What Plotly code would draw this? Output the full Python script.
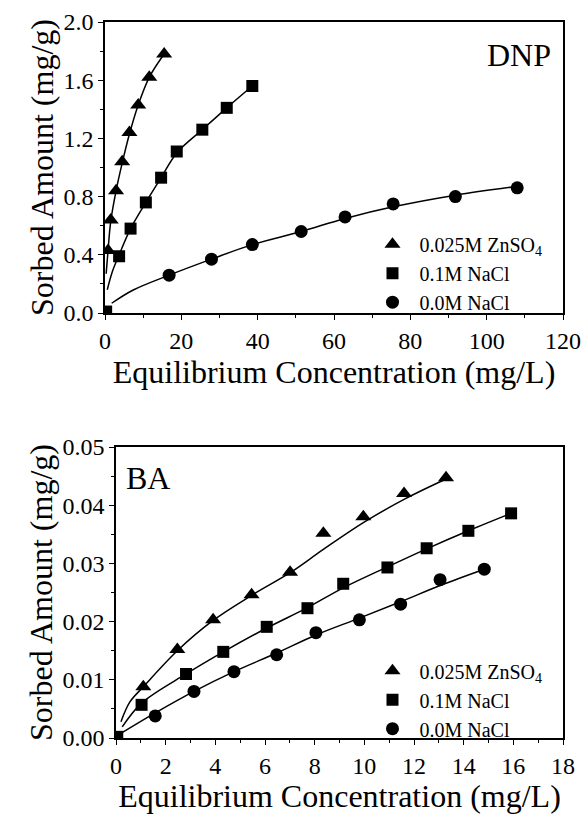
import plotly.graph_objects as go

# ---------------- DNP (top panel) ----------------
dnp_zn_x = [0.8, 1.5, 2.9, 4.5, 6.4, 8.7, 11.6, 15.5]
dnp_zn_y = [0.43, 0.64, 0.84, 1.04, 1.24, 1.43, 1.62, 1.78]
dnp_na1_x = [0.3, 3.7, 6.7, 10.7, 14.7, 18.8, 25.5, 31.9, 38.6]
dnp_na1_y = [0.01, 0.39, 0.58, 0.76, 0.93, 1.11, 1.26, 1.41, 1.56]
dnp_na0_x = [16.8, 27.9, 38.6, 51.4, 62.9, 75.5, 91.8, 108.0]
dnp_na0_y = [0.26, 0.37, 0.47, 0.56, 0.66, 0.75, 0.80, 0.86]

# fitted curves
dnp_zn_cx = [0.3, 0.8, 1.5, 2.9, 4.5, 6.4, 8.7, 11.6, 15.5]
dnp_zn_cy = [0.27, 0.43, 0.63, 0.84, 1.03, 1.23, 1.43, 1.62, 1.78]
dnp_na1_cx = [0.6, 2.0, 3.7, 6.7, 10.7, 14.7, 18.8, 25.5, 31.9, 38.6]
dnp_na1_cy = [0.16, 0.29, 0.40, 0.58, 0.76, 0.93, 1.10, 1.26, 1.41, 1.56]
dnp_na0_cx = [1.75, 7.4, 16.8, 27.9, 38.6, 51.4, 62.9, 75.5, 91.8, 108.0]
dnp_na0_cy = [0.067, 0.158, 0.26, 0.37, 0.47, 0.56, 0.65, 0.73, 0.81, 0.87]

# ---------------- BA (bottom panel) ----------------
ba_zn_x = [1.10, 2.47, 3.91, 5.46, 7.01, 8.35, 9.96, 11.6, 13.29]
ba_zn_y = [0.0088, 0.0152, 0.0203, 0.0246, 0.0285, 0.0352, 0.0380, 0.0420, 0.0447]
ba_na1_x = [0.05, 1.03, 2.82, 4.32, 6.07, 7.71, 9.15, 10.93, 12.51, 14.19, 15.91]
ba_na1_y = [0.0002, 0.0057, 0.0110, 0.0148, 0.0191, 0.0223, 0.0265, 0.0293, 0.0326, 0.0356, 0.0386]
ba_na0_x = [1.58, 3.14, 4.75, 6.47, 8.05, 9.80, 11.46, 13.05, 14.83]
ba_na0_y = [0.0038, 0.0080, 0.0114, 0.0143, 0.0181, 0.0203, 0.0230, 0.0272, 0.0290]

ba_zn_cx = [0.2, 0.56, 1.10, 2.47, 3.91, 5.46, 7.01, 8.35, 9.96, 11.6, 13.29]
ba_zn_cy = [0.0028, 0.0062, 0.0088, 0.0150, 0.0202, 0.0245, 0.0284, 0.0324, 0.0370, 0.0410, 0.0445]
ba_na1_cx = [0.25, 1.03, 2.82, 4.32, 6.07, 7.71, 9.15, 10.93, 12.51, 14.19, 15.91]
ba_na1_cy = [0.0019, 0.0060, 0.0110, 0.0148, 0.0189, 0.0224, 0.0258, 0.0294, 0.0325, 0.0356, 0.0386]
ba_na0_cx = [0.05, 1.58, 3.14, 4.75, 6.47, 8.05, 9.80, 11.46, 13.05, 14.83]
ba_na0_cy = [0.0004, 0.0043, 0.0080, 0.0114, 0.0146, 0.0177, 0.0206, 0.0234, 0.0262, 0.0290]

labels = ["0.025M ZnSO<sub>4</sub>", "0.1M NaCl", "0.0M NaCl"]
symbols = ["triangle-up", "square", "circle"]
sizes = [14, 12, 13]

FONT = "Liberation Serif"
fig = go.Figure()

top_sets = [(dnp_zn_x, dnp_zn_y, dnp_zn_cx, dnp_zn_cy),
            (dnp_na1_x, dnp_na1_y, dnp_na1_cx, dnp_na1_cy),
            (dnp_na0_x, dnp_na0_y, dnp_na0_cx, dnp_na0_cy)]
bot_sets = [(ba_zn_x, ba_zn_y, ba_zn_cx, ba_zn_cy),
            (ba_na1_x, ba_na1_y, ba_na1_cx, ba_na1_cy),
            (ba_na0_x, ba_na0_y, ba_na0_cx, ba_na0_cy)]

for (xs, ys, cx, cy) in top_sets:
    fig.add_trace(go.Scatter(x=cx, y=cy, mode="lines", line=dict(color="black", width=1.5, shape="spline"),
                             showlegend=False, xaxis="x", yaxis="y", hoverinfo="skip"))
for (xs, ys, cx, cy), lab, sym, sz in zip(top_sets, labels, symbols, sizes):
    fig.add_trace(go.Scatter(x=xs, y=ys, mode="markers", name=lab,
                             marker=dict(symbol=sym, size=sz, color="black"),
                             xaxis="x", yaxis="y", legend="legend"))

for (xs, ys, cx, cy) in bot_sets:
    fig.add_trace(go.Scatter(x=cx, y=cy, mode="lines", line=dict(color="black", width=1.5, shape="spline"),
                             showlegend=False, xaxis="x2", yaxis="y2", hoverinfo="skip"))
for (xs, ys, cx, cy), lab, sym, sz in zip(bot_sets, labels, symbols, sizes):
    fig.add_trace(go.Scatter(x=xs, y=ys, mode="markers", name=lab,
                             marker=dict(symbol=sym, size=sz, color="black"),
                             xaxis="x2", yaxis="y2", legend="legend2"))


def axis(**kw):
    d = dict(showline=True, linecolor="black", linewidth=1.5, mirror=True,
             ticks="outside", ticklen=5, tickwidth=1.2, tickcolor="black",
             showgrid=False, zeroline=False, automargin=False,
             tickfont=dict(family=FONT, size=24, color="black"))
    d.update(kw)
    return d


def title(text, standoff):
    return dict(text=text, font=dict(family=FONT, size=32, color="black"), standoff=standoff)


def minor(dt):
    return dict(dtick=dt, ticklen=3, ticks="outside", tickcolor="black", tickwidth=1.2)


leg_font = dict(family=FONT, size=20, color="black")

fig.update_layout(
    width=582, height=814,
    font=dict(family=FONT, color="black"),
    margin=dict(l=0, r=0, t=0, b=0),
    paper_bgcolor="white", plot_bgcolor="white",
    xaxis=axis(domain=[105/582, 563/582], anchor="y", range=[0, 120], dtick=20, tick0=0,
               minor=minor(10), title=title("Equilibrium Concentration (mg/L)", 7)),
    yaxis=axis(domain=[501/814, 792/814], anchor="x", range=[0, 2.0], dtick=0.4, tick0=0,
               tickformat=".1f", minor=minor(0.2), title=title("Sorbed Amount (mg/g)", 0)),
    xaxis2=axis(domain=[116/582, 563/582], anchor="y2", range=[0, 18], dtick=2, tick0=0,
                minor=minor(1), title=title("Equilibrium Concentration (mg/L)", 6)),
    yaxis2=axis(domain=[76/814, 367/814], anchor="x2", range=[0, 0.05], dtick=0.01, tick0=0,
                tickformat=".2f", minor=minor(0.005), title=title("Sorbed Amount (mg/g)", 0)),
    legend=dict(x=0.628, y=0.724, xanchor="left", yanchor="top", bgcolor="rgba(0,0,0,0)",
                font=leg_font, tracegroupgap=0, itemwidth=44),
    legend2=dict(x=0.628, y=0.2, xanchor="left", yanchor="top", bgcolor="rgba(0,0,0,0)",
                 font=leg_font, tracegroupgap=0, itemwidth=44),
    annotations=[
        dict(text="DNP", x=553/582, y=(814-55)/814, xref="paper", yref="paper",
             xanchor="right", yanchor="middle", showarrow=False,
             font=dict(family=FONT, size=32, color="black")),
        dict(text="BA", x=124/582, y=(814-478)/814, xref="paper", yref="paper",
             xanchor="left", yanchor="middle", showarrow=False,
             font=dict(family=FONT, size=32, color="black")),
    ],
)

fig.write_html("out.html", config={"displayModeBar": False},
               post_script="document.body.style.margin='0';")
